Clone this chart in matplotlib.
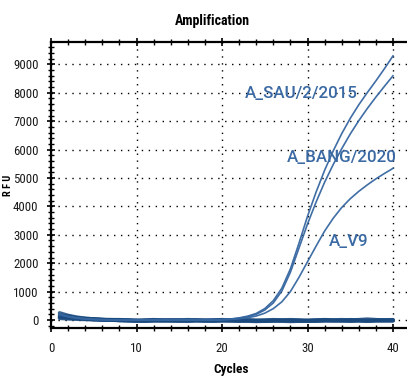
import matplotlib
matplotlib.use("Agg")
import matplotlib.pyplot as plt
from matplotlib.ticker import MultipleLocator
from matplotlib import font_manager as fm

cycles = list(range(1, 41))

sau = [180, 110, 60, 35, 20, 10, 5, 0, -5, 0, 5, 0, -5, 0, 0, 5, 5, 10, 10,
       15, 35, 75, 135, 230, 400, 680, 1120, 1800, 2700, 3650, 4500, 5270,
       5950, 6560, 7100, 7580, 8010, 8420, 8850, 9300]
bang = [200, 120, 70, 40, 20, 10, 0, -5, 0, 5, 0, -5, 0, 5, 0, 0, 5, 5, 5,
        10, 30, 60, 115, 200, 350, 600, 1020, 1680, 2530, 3380, 4150, 4850,
        5470, 6030, 6550, 7020, 7450, 7850, 8230, 8600]
v9 = [220, 130, 80, 45, 25, 10, 5, 0, -5, -5, 0, 5, 0, -5, 0, 5, 0, 0, 5,
      5, 20, 45, 80, 140, 240, 400, 640, 1000, 1500, 2050, 2600, 3130,
      3580, 3960, 4270, 4530, 4760, 4970, 5160, 5340]

baselines = [
    [250, 160, 100, 60, 30, 10, 0, -10, -20, -30, -20, -10, -20, -30, -20, -10, -20, -30, -20, -10,
     -20, -10, -20, -30, -20, -10, -20, -10, -20, -30, -20, -10, -20, -10, -20, -10, -20, -10, -10, -10],
    [120, 90, 60, 40, 20, 10, 0, -10, -10, -20, -30, -20, -10, 0, -10, -20, -10, -20, -10, 0,
     -10, -20, -10, -20, -30, -20, -10, -20, -30, -20, -10, 0, -10, -20, 10, -10, -20, -10, 0, 0],
    [60, 40, 30, 20, 10, 0, 10, 0, -10, -40, -20, -10, -30, -10, -20, -40, -20, -10, -30, -20,
     -30, -40, -20, -30, -40, -30, -20, -30, -20, -40, -30, -20, -30, -20, -30, -20, -30, -20, -20, -20],
    [180, 140, 80, 50, 40, 20, 10, 10, 0, -10, 0, 10, 0, -10, 0, 10, 0, -10, 0, 10,
     0, 10, 0, -10, 0, 10, 0, 10, 0, -10, 0, 10, 0, 10, 0, 10, 30, 10, 0, 10],
    [90, 70, 50, 30, 20, 10, 0, -20, -30, -20, -40, -30, -20, -30, -40, -30, -20, -30, -40, -30,
     -20, -30, -40, -50, -40, -30, -40, -50, -40, -30, -40, -30, -20, -30, -40, -30, -40, -30, -30, -30],
]

labels = ["A_SAU/2/2015", "A_BANG/2020", "A_V9"]
title = "Amplification"
xlabel = "Cycles"
ylabel = "R F U"

# pick a narrow font family (preferably one with a bold face)
weights = {}
for f in fm.fontManager.ttflist:
    if "Narrow" in f.name or "Condensed" in f.name:
        w = f.weight if isinstance(f.weight, int) else (700 if "bold" in str(f.weight).lower() else 400)
        weights.setdefault(f.name, set()).add(w)
preferred = ["Liberation Sans Narrow", "Arial Narrow", "Roboto Condensed", "DejaVu Sans Condensed",
             "Open Sans Condensed", "Noto Sans Condensed"]
narrow_family = None
for p in preferred:
    if p in weights and any(w >= 600 for w in weights[p]):
        narrow_family = p
        break
if narrow_family is None:
    for name, ws in weights.items():
        if any(w >= 600 for w in ws):
            narrow_family = name
            break
if narrow_family is None and weights:
    narrow_family = sorted(weights)[0]
if narrow_family is None:
    narrow_family = "Liberation Sans"
fam = [narrow_family, "Liberation Sans"]

W, H = 407, 376
fig = plt.figure(figsize=(W / 100, H / 100), dpi=100)
ax = fig.add_axes([51 / W, 1 - 328 / H, 1 - 51 / W, (328 - 42) / H])

line_col = "#3566a0"
base_col = "#1b4a7f"
txt_col = "#3a69a3"

for b in baselines:
    ax.plot(cycles, b, color=base_col, lw=2.6, alpha=0.85, solid_capstyle="round")
for s in (sau, bang, v9):
    ax.plot(cycles, s, color=line_col, lw=1.2, alpha=0.95)

ax.set_xlim(0, (W - 51) / 8.55)
ax.set_ylim(-282, 9789)

ax.xaxis.set_major_locator(MultipleLocator(10))
ax.xaxis.set_minor_locator(MultipleLocator(2))
ax.yaxis.set_major_locator(MultipleLocator(1000))
ax.yaxis.set_minor_locator(MultipleLocator(200))

ax.grid(True, which="major", color="black", linestyle=(0, (1, 4)), lw=1.0)

for side in ("left", "top", "bottom"):
    ax.spines[side].set_linewidth(1.6)
ax.spines["right"].set_visible(False)

ax.tick_params(axis="both", which="major", direction="inout", length=6, width=1.2,
               top=True, right=False)
ax.tick_params(axis="both", which="minor", direction="inout", length=4, width=1.0,
               top=True, right=False)
ax.tick_params(axis="x", which="both", labeltop=False, pad=7)
ax.tick_params(axis="y", pad=6)

for lab in ax.get_xticklabels() + ax.get_yticklabels():
    lab.set_fontfamily(fam)
    lab.set_fontsize(9.3)
    lab.set_color("#1a1a1a")

fig.text(212 / W, 1 - 21 / H, title, ha="center", va="center", fontsize=10,
         fontweight="bold", family=fam)
fig.text(231 / W, 1 - 370 / H, xlabel, ha="center", va="center", fontsize=9.5,
         fontweight="bold", family=fam)
fig.text(8 / W, 1 - 185 / H, ylabel, ha="center", va="center", fontsize=7.5,
         fontweight="bold", rotation=90, family=fam)

lab_font = dict(family=["Roboto", "DejaVu Sans"], fontsize=12.2, fontweight="medium",
                color=txt_col, va="center", ha="left")
ax.text(22.7, 7960, labels[0], **lab_font)
ax.text(27.6, 5720, labels[1], **lab_font)
ax.text(32.5, 2780, labels[2], **lab_font)

fig.savefig("out.png", dpi=100)
